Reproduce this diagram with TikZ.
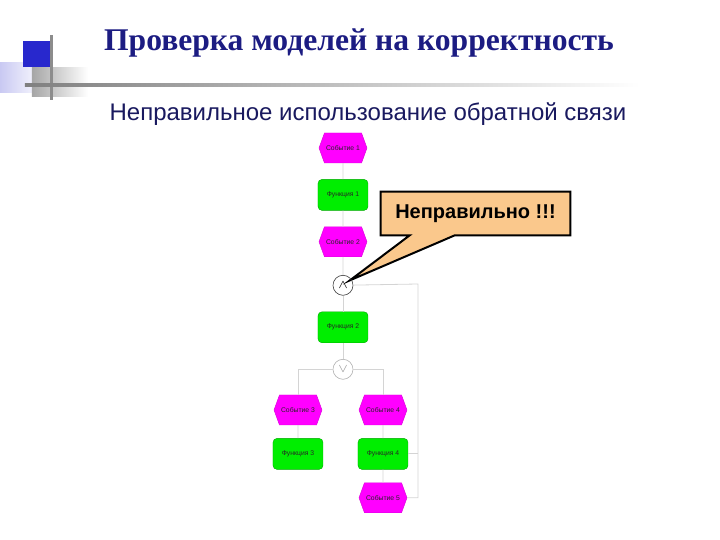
\documentclass[tikz,border=0pt]{standalone}
\usepackage{fontspec}
\setmainfont{Liberation Serif}
\setsansfont{Liberation Sans}
\usetikzlibrary{positioning,calc,shapes.symbols,backgrounds}

\definecolor{navy}{RGB}{28,28,130}
\definecolor{subnavy}{RGB}{25,25,95}
\definecolor{evmag}{RGB}{255,0,255}
\definecolor{fngreen}{RGB}{0,238,0}
\definecolor{calloutfill}{RGB}{250,200,140}
\definecolor{linkgray}{RGB}{212,212,212}
\definecolor{deco}{RGB}{40,40,205}

\tikzset{
  event/.style={shape=signal, signal to=west and east, signal pointer angle=140,
    fill=evmag, draw=evmag!85!black, line width=0.2pt,
    minimum width=24pt, minimum height=15pt, inner sep=0pt,
    font=\sffamily\fontsize{3.4}{3.4}\selectfont, text=black!85},
  func/.style={rectangle, rounded corners=2pt, fill=fngreen, draw=fngreen!70!black,
    line width=0.2pt, minimum width=25pt, minimum height=15.5pt, inner sep=0pt,
    font=\sffamily\fontsize{3.4}{3.4}\selectfont, text=black!85},
  oper/.style={circle, draw=black!75, line width=0.3pt, minimum size=10pt,
    inner sep=0pt, font=\fontsize{6}{6}\selectfont},
  link/.style={draw=linkgray, line width=0.4pt},
}

\begin{document}
\begin{tikzpicture}[x=0.5pt, y=-0.5pt, node distance=8pt]
  \useasboundingbox (0,0) rectangle (720,540);

  % slide decoration
  \shade[left color=deco!25, right color=white] (0,63) rectangle (45,93);
  \fill[deco] (23,41) rectangle (53,67);
  \shade[left color=black!35, right color=white] (32,68) rectangle (88,97);
  \fill[black!45] (50.5,35) rectangle (53,100);
  \shade[left color=black!50, right color=white] (25,84) rectangle (640,86.5);

  \node[font=\bfseries\fontsize{15.8}{15.8}\selectfont, text=navy] (title)
       at (359,43) {Проверка моделей на корректность};
  \node[font=\sffamily\fontsize{12}{12}\selectfont, text=subnavy] (subtitle)
       at (368,114) {Неправильное использование обратной связи};

  % chain
  \node[event] (ev1) at (343,148) {Событие 1};
  \node[func] (fn1) [below=of ev1] {Функция 1};
  \node[event] (ev2) [below=of fn1] {Событие 2};
  \node[oper] (op1) [below=9pt of ev2] {$\wedge$};
  \node[func] (fn2) [below=of op1] {Функция 2};
  \node[oper, draw=black!30, text=black!40] (op2) [below=of fn2] {$\vee$};

  \node[event] (ev3) at (298,410) {Событие 3};
  \node[event] (ev4) at (383,410) {Событие 4};
  \node[func] (fn3) [below=6.5pt of ev3] {Функция 3};
  \node[func] (fn4) [below=6.5pt of ev4] {Функция 4};
  \node[event] (ev5) [below=6.5pt of fn4] {Событие 5};

  \coordinate (back) at (418,284);

  \draw[link] (ev1) -- (fn1);
  \draw[link] (fn1) -- (ev2);
  \draw[link] (ev2) -- (op1);
  \draw[link] (op1) -- (fn2);
  \draw[link] (fn2) -- (op2);
  \draw[link] (op2) -| (ev3);
  \draw[link] (op2) -| (ev4);
  \draw[link] (ev3) -- (fn3);
  \draw[link] (ev4) -- (fn4);
  \draw[link] (fn4) -- (ev5);
  \draw[link] (ev5.east) -- (ev5.east -| back) -- (back) -- (op1);
  \draw[link] (fn4.east) -- (fn4.east -| back);

  % callout
  \node[font=\sffamily\bfseries\fontsize{10}{10}\selectfont, minimum width=94.5pt,
        minimum height=21.5pt] (wrong) at (475.5,213.5) {Неправильно !!!};
  \begin{scope}[on background layer]
    \draw[fill=calloutfill, line width=1pt, line join=miter]
      (wrong.north west) -- (wrong.north east) -- (wrong.south east)
      -- ($(wrong.south west)+(74,0)$) -- ($(op1.center)+(7,-5)$)
      -- ($(wrong.south west)+(29,0)$) -- (wrong.south west) -- cycle;
  \end{scope}
\end{tikzpicture}
\end{document}
